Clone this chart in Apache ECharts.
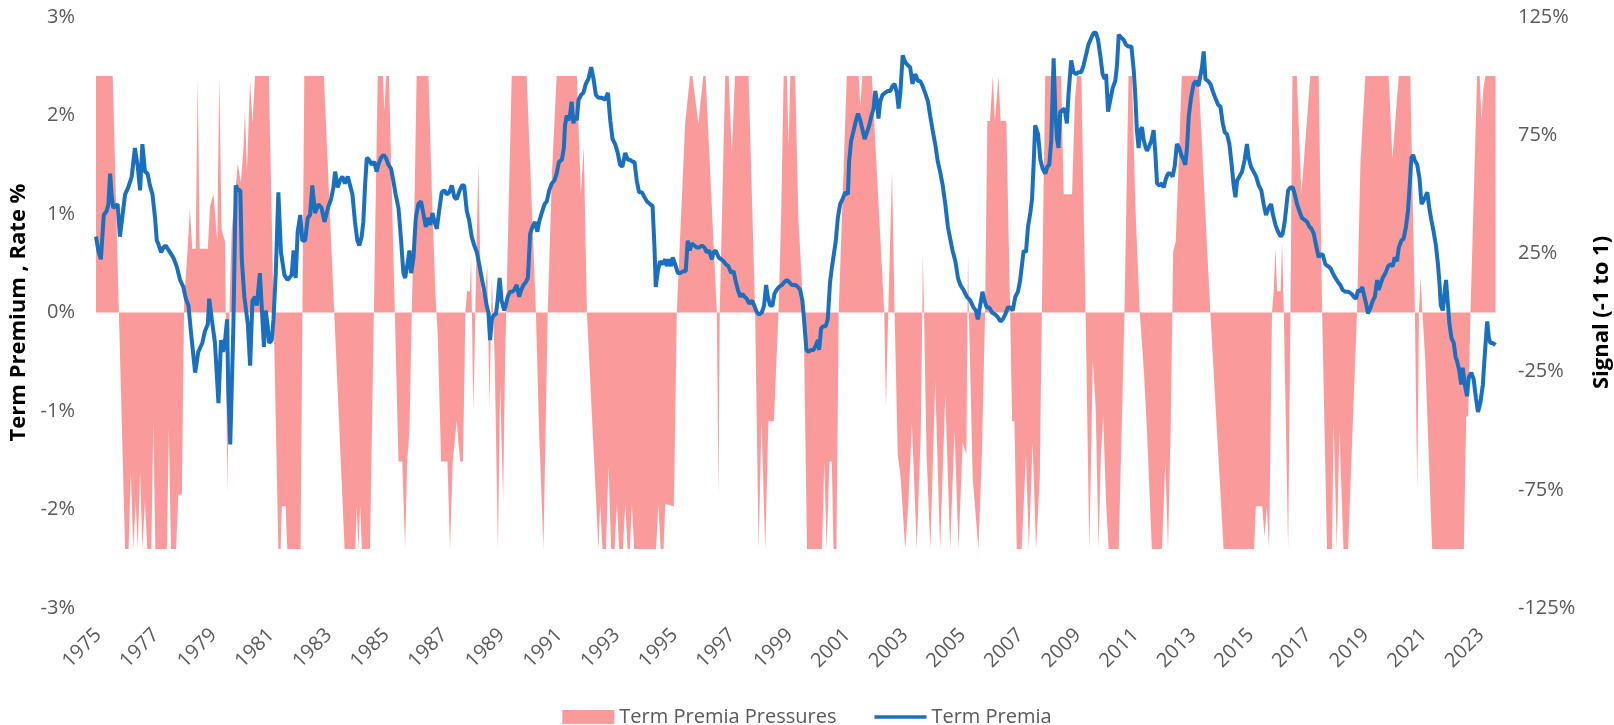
<!DOCTYPE html>
<html><head><meta charset="utf-8">
<script src="https://cdn.jsdelivr.net/npm/echarts@6/dist/echarts.min.js"></script>
<style>html,body{margin:0;padding:0;background:#fff}#c{width:1614px;height:725px}</style>
</head><body><div id="c"></div>
<script>
const yearLabels = [1975,1977,1979,1981,1983,1985,1987,1989,1991,1993,1995,1997,1999,2001,2003,2005,2007,2009,2011,2013,2015,2017,2019,2021,2023];

// Term Premia, rate % : [decimal year, value]
const termPremia = [
[1974.92,0.77],[1975.00,0.63],[1975.09,0.54],[1975.19,0.99],[1975.29,1.03],[1975.35,1.10],[1975.41,1.41],[1975.46,1.2],[1975.52,1.06],[1975.60,1.08],[1975.67,1.10],[1975.75,0.77],[1975.83,0.96],[1975.93,1.2],[1976.04,1.27],[1976.16,1.38],[1976.27,1.67],[1976.37,1.48],[1976.45,1.24],[1976.53,1.71],[1976.62,1.43],[1976.71,1.41],[1976.79,1.29],[1976.88,1.2],[1976.97,0.96],[1977.03,0.73],[1977.08,0.70],[1977.18,0.61],[1977.26,0.66],[1977.34,0.68],[1977.49,0.61],[1977.60,0.56],[1977.72,0.47],[1977.84,0.33],[1977.95,0.26],[1978.04,0.14],[1978.13,0.07],[1978.22,-0.21],[1978.36,-0.61],[1978.47,-0.40],[1978.61,-0.31],[1978.70,-0.19],[1978.80,-0.12],[1978.85,0.14],[1978.94,-0.07],[1979.05,-0.31],[1979.17,-0.92],[1979.26,-0.28],[1979.33,-0.40],[1979.40,-0.28],[1979.47,-0.07],[1979.51,-0.77],[1979.58,-1.34],[1979.63,-1.36],[1979.69,-0.12],[1979.77,1.29],[1979.86,1.24],[1979.93,1.24],[1979.98,0.54],[1980.07,0.16],[1980.19,-0.12],[1980.27,-0.54],[1980.35,0.12],[1980.44,0.16],[1980.50,0.07],[1980.61,0.40],[1980.67,0.07],[1980.75,-0.35],[1980.81,0.02],[1980.88,-0.14],[1980.93,-0.31],[1981.02,-0.28],[1981.08,-0.07],[1981.16,0.40],[1981.25,1.22],[1981.34,0.61],[1981.46,0.38],[1981.57,0.33],[1981.71,0.38],[1981.78,0.63],[1981.85,0.35],[1981.92,0.82],[1982.01,0.99],[1982.08,0.73],[1982.18,0.73],[1982.27,0.96],[1982.35,0.99],[1982.43,1.29],[1982.52,1.01],[1982.64,1.10],[1982.75,1.06],[1982.85,0.92],[1982.99,1.08],
[1983.08,1.15],[1983.16,1.27],[1983.22,1.43],[1983.31,1.27],[1983.39,1.34],[1983.47,1.38],[1983.56,1.31],[1983.66,1.38],[1983.74,1.29],[1983.82,1.20],[1983.91,0.92],[1983.99,0.73],[1984.06,0.68],[1984.14,0.77],[1984.20,0.92],[1984.26,1.29],[1984.32,1.57],[1984.40,1.55],[1984.49,1.50],[1984.58,1.53],[1984.66,1.43],[1984.72,1.50],[1984.81,1.57],[1984.90,1.60],[1984.98,1.57],[1985.07,1.50],[1985.16,1.46],[1985.24,1.34],[1985.32,1.20],[1985.42,1.06],[1985.51,0.73],[1985.59,0.40],[1985.65,0.35],[1985.72,0.47],[1985.80,0.63],[1985.86,0.40],[1985.94,0.56],[1986.02,0.96],[1986.11,1.10],[1986.20,1.13],[1986.28,1.01],[1986.37,0.87],[1986.43,0.96],[1986.52,0.89],[1986.60,1.01],[1986.67,0.92],[1986.75,0.85],[1986.83,1.03],[1986.92,1.22],[1987.01,1.24],[1987.09,1.20],[1987.18,1.22],[1987.27,1.29],[1987.36,1.17],[1987.44,1.15],[1987.52,1.22],[1987.62,1.29],[1987.70,1.29],[1987.79,1.03],[1987.87,0.94],[1987.96,0.77],[1988.05,0.68],[1988.14,0.61],[1988.22,0.49],[1988.31,0.35],[1988.40,0.21],[1988.48,0.07],[1988.54,0.0],[1988.60,-0.28],[1988.66,-0.07],[1988.73,-0.02],[1988.80,-0.02],[1988.85,0.09],[1988.93,0.35],[1989.00,0.12],[1989.09,0.02],[1989.14,0.07],[1989.21,0.16],[1989.29,0.21],[1989.37,0.21],[1989.44,0.23],[1989.52,0.28],[1989.61,0.16],[1989.68,0.23],[1989.76,0.28],[1989.84,0.31],[1989.91,0.35],[1989.99,0.80],[1990.07,0.87],[1990.16,0.92],[1990.24,0.82],[1990.30,0.92],[1990.39,1.01],[1990.49,1.10],[1990.57,1.13],[1990.65,1.24],[1990.74,1.31],[1990.83,1.34],[1990.91,1.41],[1990.99,1.53],[1991.09,1.55],[1991.16,1.67],[1991.20,1.90],[1991.26,2.00],[1991.32,1.95],[1991.38,2.02],[1991.43,2.14],[1991.49,1.92],[1991.55,2.00],[1991.61,1.95],[1991.67,2.16],[1991.76,2.21],[1991.84,2.23],[1991.92,2.32],[1992.01,2.37],[1992.11,2.49],[1992.19,2.37],[1992.27,2.21],[1992.36,2.18],
[1992.48,2.18],[1992.59,2.16],[1992.69,2.23],[1992.77,1.95],[1992.85,1.76],[1992.94,1.71],[1993.03,1.62],[1993.11,1.50],[1993.19,1.48],[1993.29,1.62],[1993.38,1.55],[1993.46,1.55],[1993.54,1.53],[1993.61,1.53],[1993.69,1.34],[1993.77,1.22],[1993.87,1.22],[1993.96,1.17],[1994.04,1.13],[1994.15,1.10],[1994.24,1.08],[1994.31,0.63],[1994.35,0.26],[1994.42,0.42],[1994.50,0.52],[1994.58,0.49],[1994.68,0.54],[1994.73,0.47],[1994.81,0.54],[1994.88,0.47],[1994.94,0.56],[1995.02,0.49],[1995.12,0.40],[1995.20,0.40],[1995.31,0.42],[1995.39,0.42],[1995.46,0.73],[1995.53,0.63],[1995.60,0.70],[1995.69,0.68],[1995.78,0.66],[1995.86,0.66],[1995.95,0.68],[1996.04,0.66],[1996.12,0.61],[1996.20,0.63],[1996.30,0.54],[1996.35,0.61],[1996.43,0.63],[1996.53,0.56],[1996.62,0.54],[1996.70,0.52],[1996.78,0.49],[1996.87,0.47],[1996.97,0.40],[1997.05,0.42],[1997.13,0.31],[1997.20,0.23],[1997.28,0.16],[1997.36,0.19],[1997.43,0.16],[1997.51,0.14],[1997.59,0.09],[1997.69,0.12],[1997.77,0.07],[1997.86,0.0],[1997.94,-0.02],[1998.03,0.0],[1998.11,0.07],[1998.18,0.28],[1998.24,0.16],[1998.32,0.07],[1998.40,0.07],[1998.47,0.19],[1998.55,0.23],[1998.63,0.26],[1998.73,0.28],[1998.82,0.31],[1998.90,0.33],[1998.98,0.31],[1999.07,0.28],[1999.19,0.28],[1999.28,0.26],[1999.36,0.23],[1999.44,0.12],[1999.51,-0.12],[1999.58,-0.38],[1999.65,-0.40],[1999.74,-0.38],[1999.83,-0.38],[1999.91,-0.33],[1999.98,-0.28],[2000.02,-0.38],[2000.09,-0.16],[2000.17,-0.14],[2000.25,-0.14],[2000.32,-0.07],[2000.40,0.31],[2000.46,0.45],[2000.52,0.45],[2000.60,0.73],[2000.67,0.96],[2000.75,1.10],[2000.83,1.15],[2000.93,1.22],[2001.02,1.20],[2001.06,1.53],[2001.13,1.74],[2001.22,1.85],[2001.30,1.95],[2001.37,2.02],[2001.45,1.95],[2001.53,1.85],[2001.60,1.76],[2001.68,1.83],[2001.76,1.90],[2001.83,1.99],[2001.91,2.07],[2001.97,2.25],[2002.03,2.14],[2002.08,1.97],[2002.14,2.14],[2002.22,2.21],[2002.31,2.23],[2002.41,2.25],[2002.49,2.25],[2002.57,2.30],[2002.64,2.32],[2002.72,2.23],[2002.78,2.07],
[2002.84,2.23],[2002.92,2.61],[2003.01,2.54],[2003.10,2.51],[2003.18,2.49],[2003.26,2.32],[2003.36,2.42],[2003.45,2.35],[2003.53,2.35],[2003.61,2.30],[2003.70,2.23],[2003.80,2.14],[2003.88,1.99],[2003.96,1.85],[2004.05,1.71],[2004.14,1.53],[2004.22,1.43],[2004.31,1.29],[2004.40,1.10],[2004.49,0.87],[2004.57,0.75],[2004.65,0.63],[2004.75,0.52],[2004.84,0.35],[2004.92,0.28],[2005.03,0.23],[2005.15,0.16],[2005.27,0.12],[2005.38,0.05],[2005.46,0.02],[2005.53,-0.07],[2005.61,0.07],[2005.69,0.21],[2005.76,0.12],[2005.84,0.05],[2005.93,0.05],[2006.02,0.0],[2006.13,-0.02],[2006.23,-0.05],[2006.31,-0.09],[2006.39,-0.07],[2006.48,-0.02],[2006.57,0.05],[2006.66,0.05],[2006.74,0.02],[2006.83,0.16],[2006.92,0.21],[2007.00,0.33],[2007.06,0.35],[2007.12,0.63],[2007.20,0.61],[2007.27,0.87],[2007.35,1.01],[2007.41,1.15],[2007.47,1.53],[2007.52,1.90],[2007.62,1.81],[2007.70,1.55],[2007.78,1.46],[2007.87,1.41],[2007.94,1.48],[2008.01,1.50],[2008.08,1.76],[2008.16,2.58],[2008.22,2.04],[2008.28,1.76],[2008.33,1.67],[2008.39,2.04],[2008.45,2.04],[2008.54,2.07],[2008.62,1.92],[2008.68,2.23],[2008.77,2.56],[2008.85,2.44],[2008.94,2.42],[2009.03,2.44],[2009.12,2.44],[2009.20,2.51],[2009.28,2.61],[2009.37,2.72],[2009.47,2.79],[2009.55,2.84],[2009.63,2.84],[2009.70,2.77],[2009.78,2.61],[2009.86,2.42],[2009.93,2.37],[2009.98,2.42],[2010.05,2.04],[2010.13,2.16],[2010.21,2.28],[2010.30,2.35],[2010.36,2.51],[2010.42,2.82],[2010.51,2.79],[2010.59,2.77],[2010.67,2.72],[2010.76,2.70],[2010.86,2.70],[2010.94,2.46],[2010.99,2.23],[2011.05,1.85],[2011.11,1.67],[2011.17,1.85],[2011.23,1.88],[2011.28,1.76],[2011.34,1.69],[2011.40,1.64],[2011.48,1.69],[2011.55,1.74],[2011.63,1.85],[2011.69,1.62],[2011.75,1.31],[2011.83,1.29],[2011.92,1.31],[2011.98,1.27],[2012.06,1.36],[2012.13,1.41],[2012.21,1.41],[2012.29,1.38],[2012.36,1.48],[2012.44,1.71],[2012.52,1.67],[2012.59,1.60],[2012.67,1.55],[2012.73,1.50],[2012.79,1.67],[2012.85,1.99],[2012.93,2.18],[2013.02,2.32],[2013.10,2.35],[2013.19,2.30],[2013.25,2.28],[2013.31,2.49],[2013.37,2.65],[2013.43,2.37],[2013.52,2.35],[2013.60,2.32],[2013.68,2.25],[2013.77,2.18],[2013.87,2.11],[2013.95,2.09],[2014.03,1.92],[2014.10,1.83],[2014.18,1.81],
[2014.26,1.71],[2014.33,1.53],[2014.41,1.29],[2014.47,1.17],[2014.53,1.34],[2014.61,1.38],[2014.70,1.43],[2014.79,1.55],[2014.87,1.71],[2014.93,1.57],[2015.01,1.48],[2015.10,1.43],[2015.19,1.38],[2015.28,1.29],[2015.37,1.24],[2015.45,1.10],[2015.53,0.99],[2015.62,1.06],[2015.71,1.10],[2015.76,1.01],[2015.86,0.89],[2015.95,0.82],[2016.04,0.77],[2016.11,0.80],[2016.18,0.92],[2016.24,1.08],[2016.30,1.24],[2016.38,1.27],[2016.46,1.27],[2016.53,1.20],[2016.61,1.10],[2016.69,1.03],[2016.78,0.96],[2016.87,0.94],[2016.96,0.92],[2017.04,0.87],[2017.11,0.85],[2017.19,0.80],[2017.27,0.68],[2017.36,0.56],[2017.42,0.59],[2017.50,0.59],[2017.59,0.49],[2017.68,0.47],[2017.77,0.45],[2017.85,0.40],[2017.94,0.35],[2018.03,0.31],[2018.11,0.28],[2018.19,0.23],[2018.29,0.21],[2018.40,0.21],[2018.50,0.19],[2018.58,0.16],[2018.66,0.14],[2018.73,0.23],[2018.81,0.21],[2018.87,0.26],[2018.95,0.16],[2019.02,0.07],[2019.07,-0.01],[2019.16,0.05],[2019.24,0.12],[2019.31,0.16],[2019.39,0.33],[2019.44,0.23],[2019.50,0.21],[2019.58,0.35],[2019.68,0.40],[2019.77,0.47],[2019.85,0.49],[2019.93,0.47],[2020.00,0.56],[2020.08,0.52],[2020.14,0.66],[2020.23,0.73],[2020.31,0.75],[2020.39,0.87],[2020.46,1.03],[2020.52,1.29],[2020.58,1.57],[2020.64,1.60],[2020.69,1.55],[2020.78,1.50],[2020.86,1.36],[2020.93,1.10],[2020.99,1.08],[2021.06,1.17],[2021.13,1.22],[2021.20,1.06],[2021.27,0.94],[2021.35,0.82],[2021.43,0.68],[2021.50,0.49],[2021.55,0.31],[2021.60,0.07],[2021.67,0.02],[2021.74,0.23],[2021.78,0.33],[2021.85,0.07],[2021.90,-0.12],[2021.97,-0.26],[2022.05,-0.31],[2022.11,-0.45],[2022.16,-0.49],[2022.24,-0.59],[2022.31,-0.73],[2022.36,-0.56],[2022.43,-0.73],[2022.51,-0.85],[2022.57,-0.66],[2022.66,-0.61],[2022.74,-0.68],[2022.82,-0.87],[2022.89,-1.01],[2022.97,-0.92],[2023.06,-0.73],[2023.12,-0.45],[2023.21,-0.09],[2023.27,-0.26],[2023.32,-0.31],[2023.40,-0.31],[2023.50,-0.33]
];

// Term Premia Pressures, signal % (-100..100) : [decimal year, value]
const pressures = [
[1974.92,100],[1975.50,100],[1975.93,-100],[1976.05,-100],[1976.13,-67],[1976.21,-100],[1976.30,-80],[1976.37,-100],[1976.45,-67],[1976.53,-100],[1976.62,-80],[1976.70,-100],[1976.84,-100],[1976.91,-47],[1976.98,-100],[1977.38,-100],[1977.45,-49],[1977.52,-100],[1977.70,-100],[1977.78,-77],[1977.90,-77],[1977.98,5],[1978.10,27],[1978.18,44],[1978.26,27],[1978.38,27],[1978.45,99],[1978.52,27],[1978.80,27],[1978.88,45],[1979.00,50],[1979.13,30],[1979.20,100],[1979.28,35],[1979.40,30],[1979.48,-77],[1979.56,5],[1979.63,35],[1979.75,50],[1979.84,63],[1979.95,55],[1980.04,70],[1980.09,85],[1980.16,60],[1980.27,98],[1980.35,80],[1980.44,100],[1980.92,100],[1981.25,-100],[1981.33,-100],[1981.37,-82],[1981.50,-82],[1981.56,-100],[1982.02,-100],[1982.15,100],[1982.83,100],[1983.55,-100],[1983.92,-100],[1983.97,-82],[1984.03,-100],[1984.09,-82],[1984.15,-100],[1984.43,-100],[1984.70,100],[1984.88,100],[1984.93,85],[1984.99,100],[1985.09,100],
[1985.42,-63],[1985.55,-63],[1985.65,-100],[1985.72,-63],[1985.80,-50],[1985.88,0],[1985.98,50],[1986.05,100],[1986.46,100],[1986.58,50],[1986.70,8],[1986.78,-9],[1986.90,-63],[1987.12,-63],[1987.21,-100],[1987.30,-63],[1987.44,-46],[1987.56,-63],[1987.66,-63],[1987.74,0],[1987.80,9],[1987.90,9],[1987.94,23],[1988.02,-42],[1988.10,10],[1988.19,63],[1988.28,10],[1988.40,5],[1988.50,20],[1988.58,-40],[1988.66,15],[1988.76,-20],[1988.87,-100],[1988.95,-30],[1989.05,-80],[1989.12,-20],[1989.35,100],[1989.87,100],[1990.19,0],[1990.30,-50],[1990.45,-100],[1990.60,0],[1990.75,60],[1990.91,100],[1991.61,100],[1991.75,50],[1991.85,70],[1991.96,0],[1992.36,-100],
[1992.42,-81],[1992.50,-100],[1992.62,-100],[1992.71,-65],[1992.80,-100],[1992.92,-100],[1993.00,-81],[1993.08,-100],[1993.21,-100],[1993.29,-81],[1993.37,-100],[1993.45,-100],[1993.52,-81],[1993.60,-100],[1994.36,-100],[1994.44,-81],[1994.52,-100],[1994.62,-100],[1994.68,-81],[1994.98,-82],[1995.08,0],[1995.37,80],[1995.54,100],[1995.62,100],[1995.83,80],[1996.00,100],[1996.08,100],[1996.47,0],[1996.53,-78],[1996.57,0],[1996.76,100],[1996.88,100],[1996.99,67],[1997.10,100],[1997.57,100],[1997.80,0],[1997.92,-100],[1998.02,-46],[1998.15,-100],[1998.26,-46],[1998.45,-46],[1998.61,0],[1998.70,40],[1998.79,100],[1998.90,100],[1998.96,70],[1999.02,100],[1999.19,100],[1999.30,40],[1999.48,0],[1999.60,-100],[2000.12,-100],[2000.20,-63],[2000.28,-100],[2000.38,-63],[2000.46,-63],[2000.52,-100],[2000.62,-100],[2000.70,0],[2000.98,100],[2001.39,100],[2001.45,87],[2001.52,100],[2001.85,100],
[2002.28,0],[2002.34,-40],[2002.42,0],[2002.55,60],[2002.64,0],[2002.75,-60],[2002.85,-70],[2003.01,-100],[2003.12,-80],[2003.24,-47],[2003.41,-100],[2003.55,-50],[2003.60,0],[2003.62,25],[2003.66,0],[2003.75,-60],[2003.88,-100],[2004.05,-29],[2004.22,-100],[2004.40,-35],[2004.57,-100],[2004.72,-50],[2004.86,-100],[2005.00,-55],[2005.13,-60],[2005.17,0],[2005.19,25],[2005.22,0],[2005.35,-70],[2005.55,-100],[2005.67,-60],[2005.78,0],[2005.86,81],[2005.95,81],[2006.05,100],[2006.12,81],[2006.18,81],[2006.25,100],[2006.32,81],[2006.52,81],[2006.65,0],[2006.72,-46],[2006.80,-46],[2006.88,-100],[2007.05,-100],[2007.20,-60],[2007.30,-100],[2007.43,-55],[2007.55,-100],[2007.68,-70],[2007.75,0],[2007.87,100],[2008.42,100],[2008.51,50],[2008.80,50],[2008.90,90],[2008.97,100],[2009.12,100],[2009.27,0],[2009.40,-100],[2009.52,-20],[2009.62,-40],[2009.72,-100],[2009.80,-60],[2009.88,-44],[2009.98,-80],[2010.07,-100],[2010.42,-100],[2010.62,0],[2010.76,100],[2010.88,100],[2011.00,44],[2011.15,0],[2011.30,-26],[2011.40,-50],[2011.57,-100],[2011.92,-100],[2012.04,-63],[2012.13,-100],[2012.22,-50],[2012.28,0],[2012.31,26],[2012.40,30],[2012.61,100],[2013.19,100],[2013.60,0],[2014.06,-100],
[2015.12,-100],[2015.18,-82],[2015.40,-82],[2015.48,-95],[2015.56,-82],[2015.64,-100],[2015.74,0],[2015.80,9],[2015.86,27],[2015.92,9],[2016.04,9],[2016.09,30],[2016.15,0],[2016.30,-100],[2016.38,0],[2016.45,100],[2016.60,100],[2016.76,50],[2017.07,100],[2017.36,100],[2017.48,0],[2017.65,-100],[2017.82,-100],[2017.88,-46],[2017.99,-100],[2018.08,-50],[2018.22,-100],[2018.38,-100],[2018.69,0],[2018.81,63],[2018.98,100],[2019.79,100],[2019.92,65],[2020.14,100],[2020.54,100],[2020.70,0],[2020.78,-75],[2020.84,0],[2020.90,15],[2020.96,0],[2021.06,-20],[2021.30,-100],[2022.40,-100],[2022.48,-44],[2022.55,-44],[2022.63,0],[2022.86,100],[2022.95,100],[2023.01,82],[2023.08,95],[2023.15,100],[2023.50,100]
];

const FONT = '"Open Sans", "Noto Sans", sans-serif';
const GREY = '#595959';
const PINK = '#FB9A9A';
const BLUE = '#1B6FBF';

const chart = echarts.init(document.getElementById('c'), null, {renderer: 'canvas'});
chart.setOption({
  animation: false,
  backgroundColor: '#fff',
  grid: {left: 96, right: 117, top: 17, bottom: 117, containLabel: false, outerBoundsMode: 'none'},
  legend: {
    top: 702, left: 'center', itemGap: 38, itemWidth: 52, itemHeight: 14,
    textStyle: {fontFamily: FONT, fontSize: 20, color: GREY},
    data: [
      {name: 'Term Premia Pressures', icon: 'rect'},
      {name: 'Term Premia', icon: 'path://M0,0 L100,0 L100,7 L0,7 Z'}
    ]
  },
  xAxis: {
    type: 'value', min: 1974.92, max: 2023.55,
    axisLine: {show: false}, axisTick: {show: false}, splitLine: {show: false},
    axisLabel: {
      customValues: yearLabels, rotate: 45, margin: 24,
      fontFamily: FONT, fontSize: 20, color: GREY,
      formatter: v => String(Math.round(v))
    }
  },
  yAxis: [{
    type: 'value', min: -3, max: 3, interval: 1, position: 'left',
    name: 'Term Premium , Rate %', nameLocation: 'middle', nameGap: 66, nameRotate: 90,
    nameTextStyle: {fontFamily: FONT, fontSize: 22, fontWeight: 'bold', color: '#000'},
    axisLine: {show: false}, axisTick: {show: false}, splitLine: {show: false},
    axisLabel: {formatter: '{value}%', margin: 21, fontFamily: FONT, fontSize: 20, color: GREY}
  }, {
    type: 'value', min: -125, max: 125, interval: 50, position: 'right',
    name: 'Signal (-1 to 1)', nameLocation: 'middle', nameGap: 94, nameRotate: 90,
    nameTextStyle: {fontFamily: FONT, fontSize: 22, fontWeight: 'bold', color: '#000'},
    axisLine: {show: false}, axisTick: {show: false}, splitLine: {show: false},
    axisLabel: {formatter: '{value}%', margin: 21, fontFamily: FONT, fontSize: 20, color: GREY}
  }],
  series: [{
    name: 'Term Premia Pressures', type: 'line', yAxisIndex: 1, data: pressures,
    symbol: 'none', showSymbol: false, lineStyle: {width: 0, color: PINK},
    itemStyle: {color: PINK}, areaStyle: {color: PINK, opacity: 1}, z: 1
  }, {
    name: 'Term Premia', type: 'line', yAxisIndex: 0, data: termPremia,
    symbol: 'none', showSymbol: false, lineStyle: {width: 4, color: BLUE},
    itemStyle: {color: BLUE}, z: 3
  }]
});
</script>
</body></html>
